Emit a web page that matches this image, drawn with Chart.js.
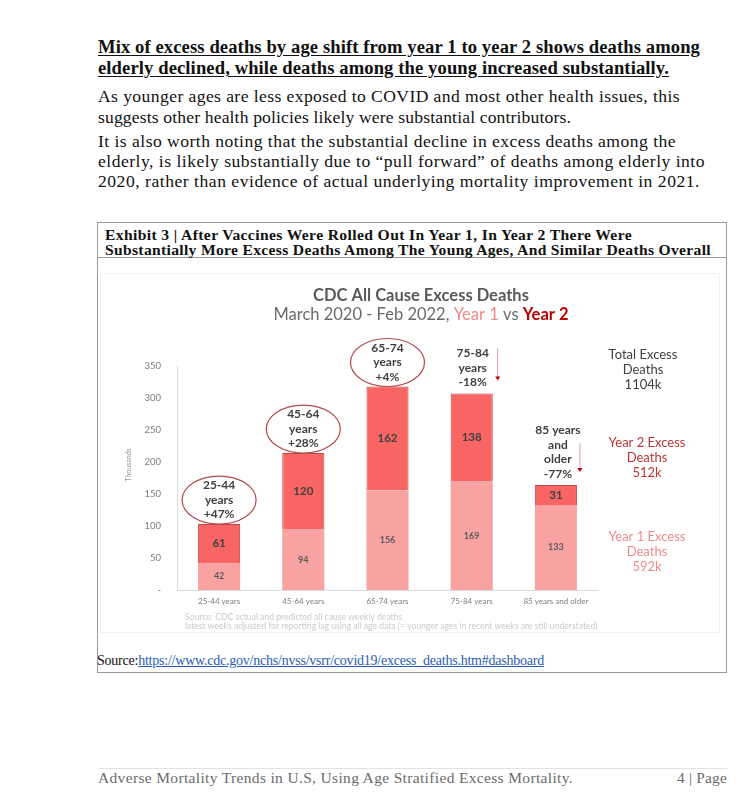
<!DOCTYPE html>
<html>
<head>
<meta charset="utf-8">
<script src="https://cdn.jsdelivr.net/npm/chart.js@4.4.1/dist/chart.umd.min.js"></script>
<style>
  html,body{margin:0;padding:0;background:#fff;}
  body{width:750px;height:810px;position:relative;overflow:hidden;font-family:"Liberation Serif",serif;color:#111;}
  .ln{position:absolute;left:98px;white-space:nowrap;line-height:20px;height:20px;}
  .hd{font-weight:bold;font-size:18.6px;text-decoration:underline;text-underline-offset:2px;}
  .p{font-size:17.6px;}
  #box{position:absolute;left:97px;top:222px;width:628px;height:449px;border:1px solid #9a9a9a;}
  #boxline{position:absolute;left:97px;top:257px;width:629px;height:1px;background:#9a9a9a;}
  .ex{position:absolute;left:105px;font-weight:bold;font-size:15.6px;white-space:nowrap;line-height:16px;}
  #panel{position:absolute;left:100px;top:273px;width:620px;height:360px;border:1px solid #f0f0f0;box-sizing:border-box;}
  #wrap{position:absolute;left:100px;top:273px;width:620px;height:360px;}
  #src{position:absolute;left:97px;top:652px;font-size:14px;white-space:nowrap;line-height:18px;}
  #src a{color:#2a5db0;text-decoration:underline;}
  #foot{position:absolute;left:98px;top:768px;width:629px;height:1px;background:#e2e2e2;}
  .ft{position:absolute;top:769px;font-size:15.5px;color:#6b6b6b;white-space:nowrap;line-height:18px;}
</style>
</head>
<body>
<div class="ln hd" style="top:37px" data-w="602">Mix of excess deaths by age shift from year 1 to year 2 shows deaths among</div>
<div class="ln hd" style="top:58px" data-w="571">elderly declined, while deaths among the young increased substantially.</div>
<div class="ln p" style="top:86px" data-w="582">As younger ages are less exposed to COVID and most other health issues, this</div>
<div class="ln p" style="top:107px" data-w="473">suggests other health policies likely were substantial contributors.</div>
<div class="ln p" style="top:131px" data-w="578">It is also worth noting that the substantial decline in excess deaths among the</div>
<div class="ln p" style="top:151px" data-w="607">elderly, is likely substantially due to “pull forward” of deaths among elderly into</div>
<div class="ln p" style="top:171px" data-w="602">2020, rather than evidence of actual underlying mortality improvement in 2021.</div>

<div id="box"></div>
<div id="boxline"></div>
<div class="ex" style="top:227px" data-w="527">Exhibit 3 | After Vaccines Were Rolled Out In Year 1, In Year 2 There Were</div>
<div class="ex" style="top:242px" data-w="606">Substantially More Excess Deaths Among The Young Ages, And Similar Deaths Overall</div>
<div id="panel"></div>
<div id="wrap"><canvas id="c" width="620" height="360"></canvas></div>
<div id="src" data-w="447">Source:<a>https://www.cdc.gov/nchs/nvss/vsrr/covid19/excess_deaths.htm#dashboard</a></div>
<div id="foot"></div>
<div class="ft" style="left:98px" data-w="475">Adverse Mortality Trends in U.S, Using Age Stratified Excess Mortality.</div>
<div class="ft" style="right:23px" data-w="50">4 | Page</div>

<script>
const categories = ['25-44 years', '45-64 years', '65-74 years', '75-84 years', '85 years and older'];
const year1 = [42, 94, 156, 169, 133];
const year2 = [61, 120, 162, 138, 31];
const changeLabels = [
  ['25-44', 'years', '+47%'],
  ['45-64', 'years', '+28%'],
  ['65-74', 'years', '+4%'],
  ['75-84', 'years', '-18%'],
  ['85 years', 'and', 'older', '-77%']
];
const changeKind = ['up', 'up', 'up', 'down', 'down'];
const totals = { total: '1104k', year2: '512k', year1: '592k' };
const yMax = 350;
const yStep = 50;

// fit text lines to the widths seen in the reference
document.querySelectorAll('[data-w]').forEach(el => {
  const t = +el.dataset.w;
  const n = el.textContent.length;
  const w = el.getBoundingClientRect().width;
  el.style.letterSpacing = ((t - w) / n) + 'px';
});

const F = 'Lato, "Open Sans", sans-serif';
const C1 = '#F9A2A2';
const C2 = '#F86565';
const C2B = '#C04848';

function txt(ctx, s, x, y, font, color, align) {
  ctx.font = font; ctx.fillStyle = color;
  ctx.textAlign = align || 'center'; ctx.textBaseline = 'middle';
  ctx.fillText(s, x, y);
}

const overlay = {
  id: 'overlay',
  beforeDraw(chart) {
    const ctx = chart.ctx;
    ctx.save();
    txt(ctx, 'CDC All Cause Excess Deaths', 321, 23, 'bold 16.5px ' + F, '#595959');
    const parts = [
      ['March 2020 - Feb 2022, ', '16.5px ' + F, '#6a6a6a'],
      ['Year 1', '16.5px ' + F, '#EE8A8A'],
      [' vs ', '16.5px ' + F, '#6a6a6a'],
      ['Year 2', 'bold 16.5px ' + F, '#C00000']
    ];
    let w = 0;
    parts.forEach(p => { ctx.font = p[1]; w += ctx.measureText(p[0]).width; });
    let x = 321 - w / 2;
    parts.forEach(p => { txt(ctx, p[0], x, 42, p[1], p[2], 'left'); ctx.font = p[1]; x += ctx.measureText(p[0]).width; });
    ctx.save();
    ctx.translate(29, 192); ctx.rotate(-Math.PI / 2);
    txt(ctx, 'Thousands', 0, 0, '7px ' + F, '#9a9a9a');
    ctx.restore();
    const rt = [
      [['Total Excess', 'Deaths', totals.total], 543, 82, '#404040'],
      [['Year 2 Excess', 'Deaths', totals.year2], 547, 170, '#B93535'],
      [['Year 1 Excess', 'Deaths', totals.year1], 547, 264, '#EE8C8C']
    ];
    rt.forEach(r => r[0].forEach((s, k) => txt(ctx, s, r[1], r[2] + k * 14.8, '13px ' + F, r[3])));
    txt(ctx, 'Source: CDC actual and predicted all cause weekly deaths', 85, 344, '8.6px ' + F, '#cacaca', 'left');
    txt(ctx, 'latest weeks adjusted for reporting lag using all age data (= younger ages in recent weeks are still understated)', 85, 353, '8.6px ' + F, '#cacaca', 'left');
    ctx.restore();
  },
  afterDatasetsDraw(chart) {
    const ctx = chart.ctx;
    ctx.save();
    const m1 = chart.getDatasetMeta(0), m2 = chart.getDatasetMeta(1);
    m1.data.forEach((b, i) => txt(ctx, String(year1[i]), b.x, (b.y + b.base) / 2, 'bold 9px ' + F, '#5a5a5a'));
    m2.data.forEach((b, i) => txt(ctx, String(year2[i]), b.x, (b.y + b.base) / 2, 'bold 11.5px ' + F, '#404040'));
    m2.data.forEach((b, i) => {
      const lines = changeLabels[i];
      const top = b.y;
      if (changeKind[i] === 'up') {
        const cy = top - 24;
        ctx.beginPath();
        ctx.ellipse(b.x, cy, 37, 24, 0, 0, Math.PI * 2);
        ctx.strokeStyle = '#B24A4E'; ctx.lineWidth = 1.2; ctx.stroke();
        lines.forEach((s, k) => txt(ctx, s, b.x, cy - 14.5 + k * 14.5, 'bold 12px ' + F, '#404040'));
      } else {
        const n = lines.length;
        const base = top - 11 - (n - 1) * 14.6;
        const tx = n > 3 ? b.x + 2 : b.x + 1;
        lines.forEach((s, k) => txt(ctx, s, tx, base + k * 14.6, 'bold 12px ' + F, '#404040'));
        const ax = n > 3 ? b.x + 24 : b.x + 26;
        const y0 = n > 3 ? base + 13 : base - 5;
        const y1 = top - 13;
        ctx.beginPath(); ctx.moveTo(ax, y0); ctx.lineTo(ax, y1 - 3);
        ctx.strokeStyle = '#D8A0A0'; ctx.lineWidth = 1; ctx.stroke();
        ctx.beginPath(); ctx.moveTo(ax - 2.5, y1 - 4); ctx.lineTo(ax + 2.5, y1 - 4); ctx.lineTo(ax, y1); ctx.closePath();
        ctx.fillStyle = '#C00000'; ctx.fill();
      }
    });
    ctx.restore();
  }
};

new Chart(document.getElementById('c'), {
  type: 'bar',
  data: {
    labels: categories,
    datasets: [
      { label: 'Year 1', data: year1, backgroundColor: C1, borderWidth: 0, barPercentage: 0.5, categoryPercentage: 1 },
      { label: 'Year 2', data: year2, backgroundColor: C2, borderColor: C2B, borderWidth: 1, barPercentage: 0.5, categoryPercentage: 1 }
    ]
  },
  options: {
    responsive: false,
    animation: false,
    events: [],
    layout: { padding: { top: 93, right: 122, left: 0, bottom: 0 } },
    plugins: { legend: { display: false }, tooltip: { enabled: false }, title: { display: false } },
    scales: {
      x: {
        stacked: true,
        grid: { display: false, drawTicks: false },
        border: { display: true, color: '#d9d9d9', width: 1 },
        ticks: { color: '#7f7f7f', font: { family: F, size: 8 }, padding: 7, maxRotation: 0, autoSkip: false },
        afterFit(s) { s.height = 43; }
      },
      y: {
        stacked: true, min: 0, max: yMax,
        grid: { display: false, drawTicks: false },
        border: { display: true, color: '#d9d9d9', width: 1 },
        ticks: { stepSize: yStep, color: '#7f7f7f', font: { family: F, size: 9.5 }, padding: 16,
                 callback: v => v === 0 ? '-' : String(v) },
        afterFit(s) { s.width = 77; }
      }
    }
  },
  plugins: [overlay]
});
</script>
</body>
</html>
